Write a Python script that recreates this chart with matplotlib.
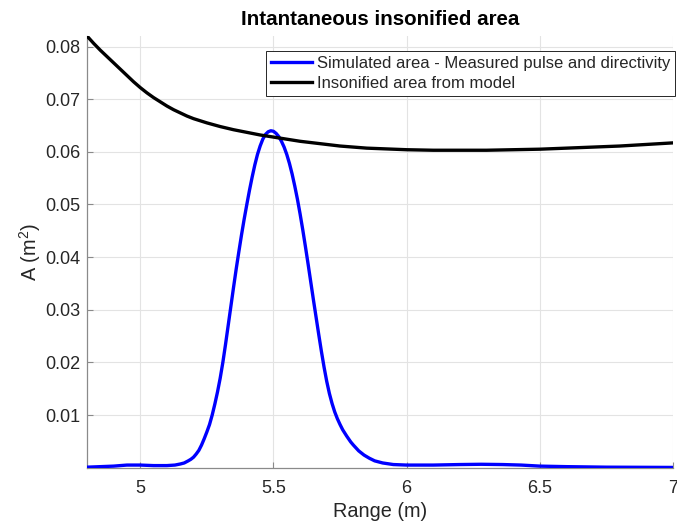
import matplotlib
matplotlib.use("Agg")
import matplotlib.pyplot as plt

plt.rcParams['font.family'] = ['Liberation Sans', 'DejaVu Sans']
plt.rcParams['mathtext.fontset'] = 'custom'
plt.rcParams['mathtext.rm'] = 'Liberation Sans'

# Simulated area (blue)
sim_x = [4.80, 4.85, 4.90, 4.95, 5.00, 5.05, 5.10, 5.13, 5.15, 5.165, 5.18, 5.19,
         5.20, 5.21, 5.22, 5.23, 5.24, 5.25, 5.26, 5.27, 5.28, 5.29, 5.30, 5.31,
         5.32, 5.33, 5.34, 5.35, 5.36, 5.37, 5.38, 5.39, 5.40, 5.41, 5.42, 5.43,
         5.44, 5.45, 5.46, 5.47, 5.48, 5.49, 5.50, 5.51, 5.52, 5.53, 5.54, 5.55,
         5.56, 5.57, 5.58, 5.59, 5.60, 5.61, 5.62, 5.63, 5.64, 5.65, 5.66, 5.67,
         5.68, 5.69, 5.70, 5.71, 5.72, 5.73, 5.74, 5.75, 5.76, 5.775, 5.79, 5.80,
         5.82, 5.84, 5.86, 5.88, 5.91, 5.95, 6.00, 6.10, 6.20, 6.28, 6.36, 6.43,
         6.50, 6.60, 6.75, 7.00]
sim_y = [0.0001, 0.0002, 0.0003, 0.0005, 0.0005, 0.0004, 0.0004, 0.0005, 0.0007,
         0.0009, 0.0013, 0.0016, 0.0020, 0.0026, 0.0033, 0.0043, 0.0055, 0.0068,
         0.0082, 0.0100, 0.0121, 0.0144, 0.0170, 0.0200, 0.0234, 0.0270, 0.0306,
         0.0342, 0.0377, 0.0410, 0.0442, 0.0472, 0.0500, 0.0527, 0.0552, 0.0575,
         0.0595, 0.0611, 0.0624, 0.0633, 0.0638, 0.0640, 0.0639, 0.0635, 0.0629,
         0.0620, 0.0609, 0.0595, 0.0578, 0.0558, 0.0535, 0.0510, 0.0482, 0.0452,
         0.0420, 0.0387, 0.0353, 0.0319, 0.0286, 0.0253, 0.0221, 0.0191, 0.0164,
         0.0141, 0.0122, 0.0106, 0.0093, 0.0082, 0.0072, 0.0060, 0.0049, 0.0043,
         0.0032, 0.0024, 0.0018, 0.0013, 0.0009, 0.0006, 0.0005, 0.0005, 0.0006,
         0.00065, 0.0006, 0.0005, 0.0003, 0.0002, 0.0001, 0.00005]

# Insonified area from model (black)
mod_x = [4.80, 4.825, 4.85, 4.875, 4.90, 4.925, 4.95, 4.975, 5.00, 5.025, 5.05,
         5.075, 5.10, 5.125, 5.15, 5.175, 5.20, 5.25, 5.30, 5.35, 5.40, 5.45,
         5.50, 5.55, 5.60, 5.65, 5.70, 5.75, 5.80, 5.85, 5.90, 5.95, 6.00, 6.10,
         6.20, 6.30, 6.40, 6.50, 6.60, 6.70, 6.80, 6.90, 7.00]
mod_y = [0.0820, 0.0806, 0.0793, 0.0781, 0.0769, 0.0757, 0.0745, 0.0733, 0.0722,
         0.0712, 0.0703, 0.0695, 0.0687, 0.0680, 0.0674, 0.0668, 0.0663, 0.0655,
         0.0648, 0.0642, 0.0637, 0.0632, 0.0628, 0.0624, 0.0620, 0.0617, 0.0614,
         0.0611, 0.0609, 0.0607, 0.0606, 0.0605, 0.0604, 0.0603, 0.0603, 0.0603,
         0.0604, 0.0605, 0.0607, 0.0609, 0.0611, 0.0614, 0.0617]

x_ticks = [5, 5.5, 6, 6.5, 7]
x_tick_labels = ['5', '5.5', '6', '6.5', '7']
y_ticks = [0.01, 0.02, 0.03, 0.04, 0.05, 0.06, 0.07, 0.08]
y_tick_labels = ['0.01', '0.02', '0.03', '0.04', '0.05', '0.06', '0.07', '0.08']

fig = plt.figure(figsize=(6.77, 5.27), dpi=100)
ax = fig.add_axes([87/677, 59.3/527, 586/677, 431.7/527])

ax.plot(sim_x, sim_y, color='#0000ff', lw=2.4,
        label='Simulated area - Measured pulse and directivity', zorder=3)
ax.plot(mod_x, mod_y, color='black', lw=2.4,
        label='Insonified area from model', zorder=3)

ax.set_xlim(4.8, 7.0)
ax.set_ylim(0, 0.0820)
ax.set_xticks(x_ticks)
ax.set_xticklabels(x_tick_labels)
ax.set_yticks(y_ticks)
ax.set_yticklabels(y_tick_labels)

ax.grid(True, color='#e3e3e3', lw=0.8)
ax.set_axisbelow(True)
for s in ['top', 'right']:
    ax.spines[s].set_visible(False)
for s in ['left', 'bottom']:
    ax.spines[s].set_color('#8a8a8a')
    ax.spines[s].set_linewidth(0.9)
ax.tick_params(direction='in', length=4, width=0.8, color='#8a8a8a',
               labelsize=13, labelcolor='#262626')
ax.tick_params(axis='x', pad=8.5)
ax.tick_params(axis='y', pad=5)

ax.set_xlabel('Range (m)', fontsize=14.3, color='#262626', labelpad=4)
ax.set_ylabel('A (m$^2$)', fontsize=14.3, color='#262626', labelpad=1)
ax.set_title('Intantaneous insonified area', fontsize=14.8, fontweight='bold',
             color='black', pad=8)

leg = ax.legend(loc='upper right', bbox_to_anchor=(675/677, 1 - 51/527),
                bbox_transform=fig.transFigure, fontsize=12, frameon=True,
                fancybox=False, edgecolor='#262626', framealpha=1,
                borderpad=0.3, labelspacing=0.3, handlelength=2.5,
                handletextpad=0.25, borderaxespad=0)
leg.get_frame().set_linewidth(0.7)
for t in leg.get_texts():
    t.set_color('#262626')

fig.savefig('out.png', dpi=100)
